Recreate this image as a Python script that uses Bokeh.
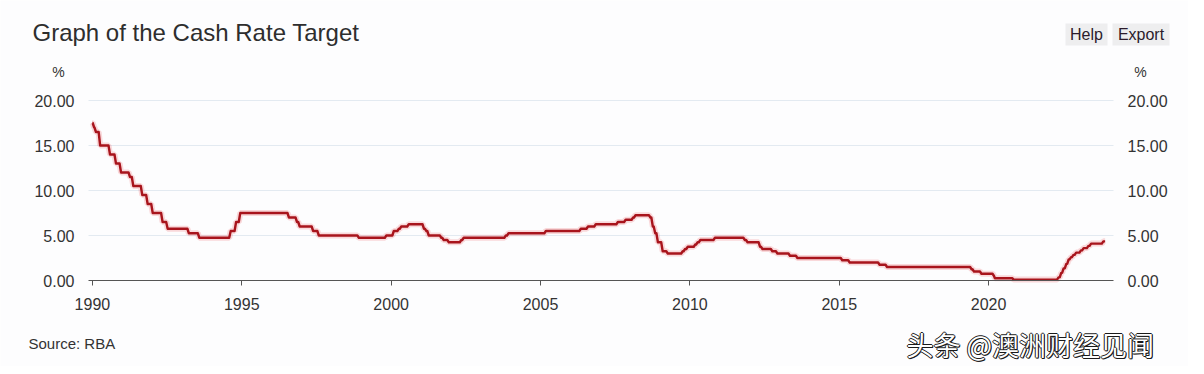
from bokeh.plotting import figure
from bokeh.models import LinearAxis, FixedTicker, NumeralTickFormatter, Range1d
from bokeh.core.properties import value
from bokeh.embed import file_html
from bokeh.resources import INLINE

# Cash rate target: change dates (decimal years) and new rate (%)
change_dates = [1990.00, 1990.06, 1990.12, 1990.26, 1990.59, 1990.79, 1990.96,
                1991.26, 1991.37, 1991.67, 1991.85, 1992.02, 1992.35, 1992.52,
                1993.23, 1993.58, 1994.63, 1994.81, 1994.95, 1996.58, 1996.85,
                1996.94, 1997.39, 1997.58, 1998.92, 1999.84, 2000.09, 2000.26,
                2000.34, 2000.59, 2001.10, 2001.18, 2001.26, 2001.68, 2001.76,
                2001.93, 2002.35, 2002.43, 2003.84, 2003.93, 2005.18, 2006.35,
                2006.59, 2006.85, 2007.59, 2007.85, 2008.10, 2008.18, 2008.68,
                2008.76, 2008.84, 2008.93, 2009.09, 2009.26, 2009.76, 2009.84,
                2009.93, 2010.18, 2010.26, 2010.35, 2010.84, 2011.84, 2011.93,
                2012.35, 2012.43, 2012.76, 2012.93, 2013.35, 2013.60, 2015.10,
                2015.35, 2016.35, 2016.60, 2019.43, 2019.51, 2019.76, 2020.18,
                2020.21, 2020.84, 2022.34, 2022.43, 2022.51, 2022.60, 2022.68,
                2022.76, 2022.84, 2022.93, 2023.09, 2023.18, 2023.34, 2023.43,
                2023.84]
rates = [17.50, 17.00, 16.50, 15.00, 14.00, 13.00, 12.00,
         11.50, 10.50, 9.50, 8.50, 7.50, 6.50, 5.75,
         5.25, 4.75, 5.50, 6.50, 7.50, 7.00, 6.50,
         6.00, 5.50, 5.00, 4.75, 5.00, 5.50, 5.75,
         6.00, 6.25, 5.75, 5.50, 5.00, 4.75, 4.50,
         4.25, 4.50, 4.75, 5.00, 5.25, 5.50, 5.75,
         6.00, 6.25, 6.50, 6.75, 7.00, 7.25, 7.00,
         6.00, 5.25, 4.25, 3.25, 3.00, 3.25, 3.50,
         3.75, 4.00, 4.25, 4.50, 4.75, 4.50, 4.25,
         3.75, 3.50, 3.25, 3.00, 2.75, 2.50, 2.25,
         2.00, 1.75, 1.50, 1.25, 1.00, 0.75, 0.50,
         0.25, 0.10, 0.35, 0.85, 1.35, 1.85, 2.35,
         2.60, 2.85, 3.10, 3.35, 3.60, 3.85, 4.10,
         4.35]
series_end = 2023.95

x_ticks = [1990, 1995, 2000, 2005, 2010, 2015, 2020]
y_ticks = [0, 5, 10, 15, 20]
grid_ticks = [5, 10, 15, 20]

title_text = "Graph of the Cash Rate Target"
unit_text = "%"
button_labels = ["Help", "Export"]
source_text = "Source: RBA"
watermark_text = "头条 @澳洲财经见闻"

# build step path with short ramps between levels
ramp = 0.05
xs, ys = [], []
for i, (d, r) in enumerate(zip(change_dates, rates)):
    nxt = change_dates[i + 1] if i + 1 < len(change_dates) else series_end
    xs += [d, max(d, nxt - ramp)]
    ys += [r, r]

# ---- layout (pixels) and axis extents
W, H = 1188, 366
FL, FR, FT, FB = 88, 1113, 100, 280          # plot area in canvas pixels
X0, X1, Y0, Y1 = 1989.87, 2024.18, 0.0, 20.0  # axis extents
xpx = (FR - FL) / (X1 - X0)
ypx = (FB - FT) / (Y1 - Y0)
x_start, x_end = X0 - FL / xpx, X1 + (W - FR) / xpx
y_start, y_end = Y0 - (H - FB) / ypx, Y1 + FT / ypx


def px(x):
    return x_start + x / xpx


def py(y):
    return y_end - y / ypx


FONT = value("Liberation Sans")
TXT = "#333333"
BG = "#fdfdfe"

p = figure(width=W, height=H, output_backend="svg", toolbar_location=None,
           x_range=Range1d(x_start, x_end), y_range=Range1d(y_start, y_end),
           min_border=0, background_fill_color=BG, border_fill_color=BG,
           outline_line_color=None)
p.grid.visible = False

# horizontal grid lines limited to the plot area
p.segment(x0=[X0] * len(grid_ticks), x1=[X1] * len(grid_ticks), y0=grid_ticks,
          y1=grid_ticks, line_color="#e3eaf1", line_width=1)

# series
p.line(xs, ys, line_color="#e8303a", line_width=6, line_alpha=0.18)
p.line(xs, ys, line_color="#a8141c", line_width=2.4, line_join="round")

# axes placed at fixed data locations
xa = p.xaxis[0]
xa.fixed_location = Y0
xa.bounds = (X0, X1)
xa.ticker = FixedTicker(ticks=x_ticks)
xa.axis_line_color = "#555555"
xa.major_tick_line_color = "#555555"
xa.major_tick_out = 5
xa.major_tick_in = 0
xa.minor_tick_line_color = None
xa.major_label_standoff = 12
xa.major_label_text_font = "Liberation Sans"
xa.major_label_text_font_size = "16px"
xa.major_label_text_color = TXT

ya = p.yaxis[0]
ya.fixed_location = X0
p.add_layout(LinearAxis(fixed_location=X1), "right")
for ax in p.yaxis:
    ax.ticker = FixedTicker(ticks=y_ticks)
    ax.formatter = NumeralTickFormatter(format="0.00")
    ax.bounds = (Y0, Y1)
    ax.axis_line_color = None
    ax.major_tick_line_color = None
    ax.minor_tick_line_color = None
    ax.major_label_standoff = 8
    ax.major_label_text_font = "Liberation Sans"
    ax.major_label_text_font_size = "16px"
    ax.major_label_text_color = TXT

# ---- texts
p.text(x=[px(32)], y=[py(32)], text=[title_text], text_font=FONT,
       text_font_size="24px", text_color="#2e2e2e", text_baseline="middle")
p.quad(left=[px(1065), px(1112)], right=[px(1107), px(1169)],
       bottom=[py(45)] * 2, top=[py(23)] * 2, fill_color="#eeeeef", line_color=None)
p.text(x=[px(1086), px(1140.5)], y=[py(34)] * 2, text=button_labels,
       text_font=FONT, text_font_size="16px", text_color="#2b1b2b",
       text_align="center", text_baseline="middle")
p.text(x=[px(58), px(1140)], y=[py(71)] * 2, text=[unit_text] * 2,
       text_font=FONT, text_font_size="14px", text_color=TXT,
       text_align="center", text_baseline="middle")
p.text(x=[px(28)], y=[py(343)], text=[source_text], text_font=FONT,
       text_font_size="15px", text_color=TXT, text_baseline="middle")

wm_font = value("Noto Sans CJK SC")
for dx, dy in [(-1, 0), (1, 0), (0, -1), (0, 1), (1, 1)]:
    p.text(x=[px(906 + dx)], y=[py(344 + dy)], text=[watermark_text], text_font=wm_font,
           text_font_size="27px", text_color="#1a1a1a", text_baseline="middle")
p.text(x=[px(906)], y=[py(344)], text=[watermark_text], text_font=wm_font,
       text_font_size="27px", text_color="#ffffff", text_baseline="middle")

open("out.html", "w").write(file_html(p, INLINE))
